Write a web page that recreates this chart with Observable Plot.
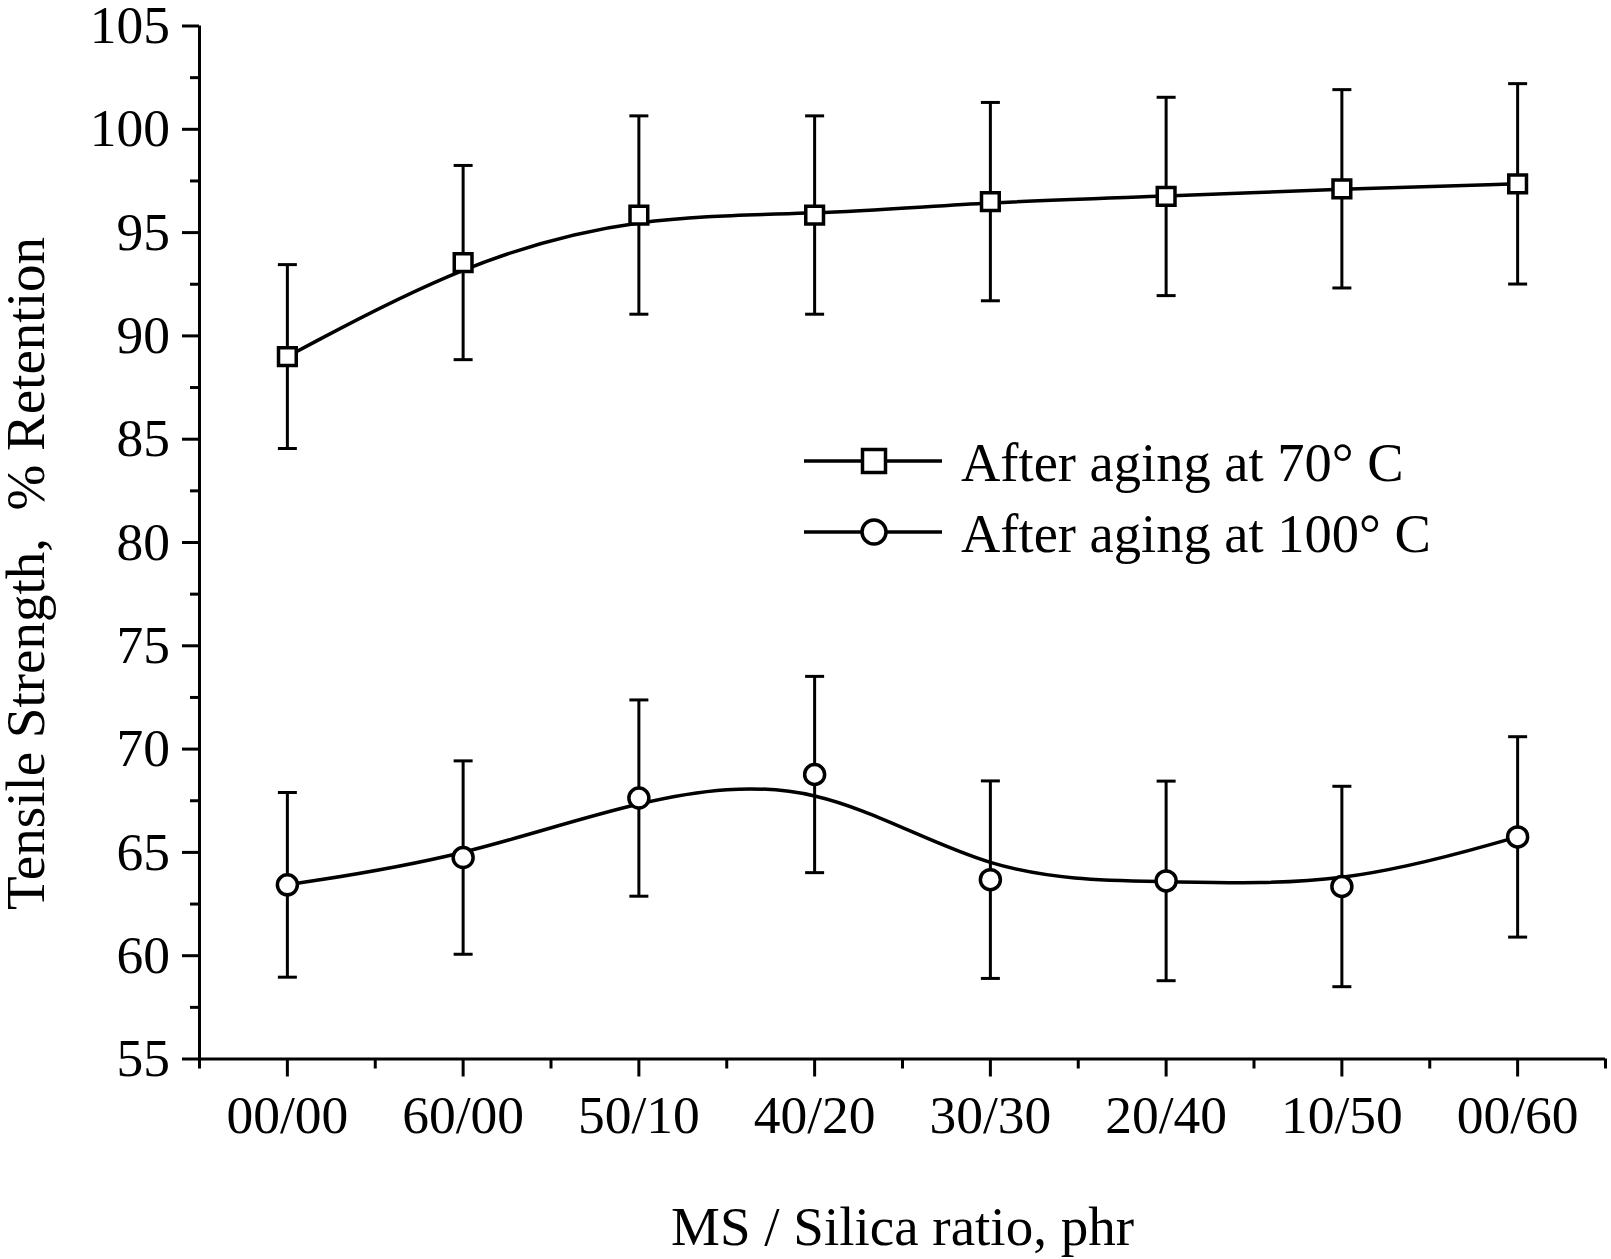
<!DOCTYPE html>
<html>
<head>
<meta charset="utf-8">
<script src="https://cdn.jsdelivr.net/npm/d3@7"></script>
<script src="https://cdn.jsdelivr.net/npm/@observablehq/plot@0.6"></script>
<style>
  html, body { margin: 0; padding: 0; background: #fff; }
  #chart { position: relative; width: 1611px; height: 1259px; }
  #legend { position: absolute; left: 0; top: 0; pointer-events: none; }
</style>
</head>
<body>
<div id="chart"></div>
<script>
// ---- data ----
const categories = ["00/00", "60/00", "50/10", "40/20", "30/30", "20/40", "10/50", "00/60"];
const seriesNames = ["After aging at 70\u00b0 C", "After aging at 100\u00b0 C"];
const ts70 = [89.0, 93.55, 95.85, 95.85, 96.5, 96.75, 97.12, 97.36];
const err70 = [4.45, 4.7, 4.8, 4.8, 4.8, 4.8, 4.8, 4.85];
const ts100 = [63.43, 64.75, 67.63, 68.77, 63.68, 63.62, 63.35, 65.75];
const err100 = [4.47, 4.68, 4.75, 4.75, 4.78, 4.83, 4.85, 4.85];
const yTicks = [55, 60, 65, 70, 75, 80, 85, 90, 95, 100, 105];
const yMinorTicks = [57.5, 62.5, 67.5, 72.5, 77.5, 82.5, 87.5, 92.5, 97.5, 102.5];
const xTitle = "MS / Silica ratio, phr";
const yTitle = "Tensile Strength,\u00a0 % Retention";

// ---- table ----
const rows = [];
categories.forEach((c, i) => {
  rows.push({i, cat: c, series: seriesNames[0], v: ts70[i], e: err70[i]});
  rows.push({i, cat: c, series: seriesNames[1], v: ts100[i], e: err100[i]});
});
const xIdx = categories.map((c, i) => i);
const xDomain = [-0.5, categories.length - 0.5];
const xMinor = d3.range(categories.length + 1).map(k => k - 0.5);
const yDomain = [yTicks[0], yTicks[yTicks.length - 1]];

const capSymbol = {
  draw(ctx, size) {
    const w = Math.sqrt(size / Math.PI);
    ctx.moveTo(-w, 0);
    ctx.lineTo(w, 0);
  }
};

const font = "'Liberation Serif', 'Times New Roman', Times, serif";
const sw = 3;

const chart = Plot.plot({
  width: 1611,
  height: 1259,
  marginLeft: 199,
  marginRight: 6,
  marginTop: 25.5,
  marginBottom: 200.5,
  style: {fontFamily: font, fontSize: "53.5px", color: "#000", background: "#fff"},
  x: {type: "linear", domain: xDomain},
  y: {domain: yDomain},
  marks: [
    Plot.ruleX([xDomain[0]], {stroke: "#000", strokeWidth: sw}),
    Plot.ruleY([yDomain[0]], {stroke: "#000", strokeWidth: sw}),
    Plot.axisY(yTicks, {tickSize: 17, tickPadding: 12.5, strokeWidth: sw, label: null}),
    Plot.axisY(yMinorTicks, {tickSize: 9, strokeWidth: sw, tickFormat: () => "", label: null}),
    Plot.axisX(xIdx, {tickSize: 18, tickPadding: 18, strokeWidth: sw, tickFormat: i => categories[i], label: null}),
    Plot.axisX(xMinor, {tickSize: 10, strokeWidth: sw, tickFormat: () => "", label: null}),
    // axis titles
    Plot.text([xTitle], {frameAnchor: "bottom", dy: 185.5, lineAnchor: "bottom", textAnchor: "middle", fontSize: 55, fill: "#000"}),
    Plot.text([yTitle], {frameAnchor: "left", rotate: -90, dx: -195, dy: 31, lineAnchor: "top", textAnchor: "middle", fontSize: 55, fill: "#000"}),
    // error bars
    Plot.ruleX(rows, {x: "i", y1: d => d.v - d.e, y2: d => d.v + d.e, stroke: "#000", strokeWidth: sw}),
    Plot.dot(rows, {x: "i", y: d => d.v + d.e, symbol: capSymbol, r: 9.5, stroke: "#000", strokeWidth: sw, fill: "none"}),
    Plot.dot(rows, {x: "i", y: d => d.v - d.e, symbol: capSymbol, r: 9.5, stroke: "#000", strokeWidth: sw, fill: "none"}),
    // smooth lines
    Plot.line(rows, {x: "i", y: "v", z: "series", curve: "basis", stroke: "#000", strokeWidth: 3.5}),
    // markers
    Plot.dot(rows, {filter: d => d.series === seriesNames[0], x: "i", y: "v", symbol: "square", r: 10,
      fill: "#fff", stroke: "#000", strokeWidth: 3.5}),
    Plot.dot(rows, {filter: d => d.series === seriesNames[1], x: "i", y: "v", symbol: "circle", r: 10,
      fill: "#fff", stroke: "#000", strokeWidth: 3.5})
  ]
});

const container = document.getElementById("chart");
container.appendChild(chart);

// ---- legend overlay ----
const legend = d3.select(container).append("svg")
  .attr("id", "legend")
  .attr("width", 1611).attr("height", 1259);
const legendItems = [
  {name: seriesNames[0], symbol: "square", cy: 461, baseline: 481},
  {name: seriesNames[1], symbol: "circle", cy: 532, baseline: 552}
];
legendItems.forEach(it => {
  const g = legend.append("g");
  g.append("line").attr("x1", 804).attr("x2", 942).attr("y1", it.cy).attr("y2", it.cy)
    .attr("stroke", "#000").attr("stroke-width", 3.5);
  if (it.symbol === "square") {
    g.append("rect").attr("x", 874 - 11.5).attr("y", it.cy - 11.5).attr("width", 23).attr("height", 23)
      .attr("fill", "#fff").attr("stroke", "#000").attr("stroke-width", 3.5);
  } else {
    g.append("circle").attr("cx", 874).attr("cy", it.cy).attr("r", 12)
      .attr("fill", "#fff").attr("stroke", "#000").attr("stroke-width", 3.5);
  }
  g.append("text").attr("x", 961).attr("y", it.baseline)
    .attr("font-family", font).attr("font-size", 54.5).attr("fill", "#000")
    .text(it.name);
});
</script>
</body>
</html>
